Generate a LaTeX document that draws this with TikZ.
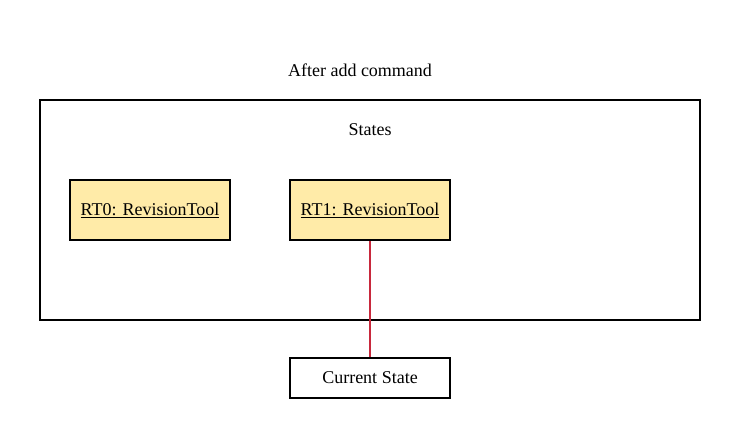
\documentclass[tikz,border=0pt]{standalone}
\usepackage{fontspec}
\setmainfont{Liberation Serif}
\definecolor{rtfill}{RGB}{255,235,168}
\definecolor{linkred}{RGB}{200,40,60}
\tikzset{
  rtbox/.style={draw,line width=2pt,fill=rtfill,minimum width=160pt,minimum height=60pt,inner sep=0pt},
  plainbox/.style={draw,line width=2pt,fill=white,minimum width=160pt,minimum height=40pt,inner sep=0pt}
}
\begin{document}
\begin{tikzpicture}[x=1pt,y=-1pt,font=\fontsize{18}{21}\selectfont]
\useasboundingbox(0,0)rectangle(740,438);
\draw[line width=2pt](40,100)rectangle(700,320);
\node(title)at(360,70){After add command};
\node(states)at(370,130){States};
\node[rtbox](rt0)at(150,210){\underline{RT0: RevisionTool}};
\node[rtbox](rt1)at(370,210){\underline{RT1: RevisionTool}};
\node[plainbox](cur)at(370,378){Current State};
\draw[line width=2pt,linkred](rt1.south)--(cur.north);
\end{tikzpicture}
\end{document}
